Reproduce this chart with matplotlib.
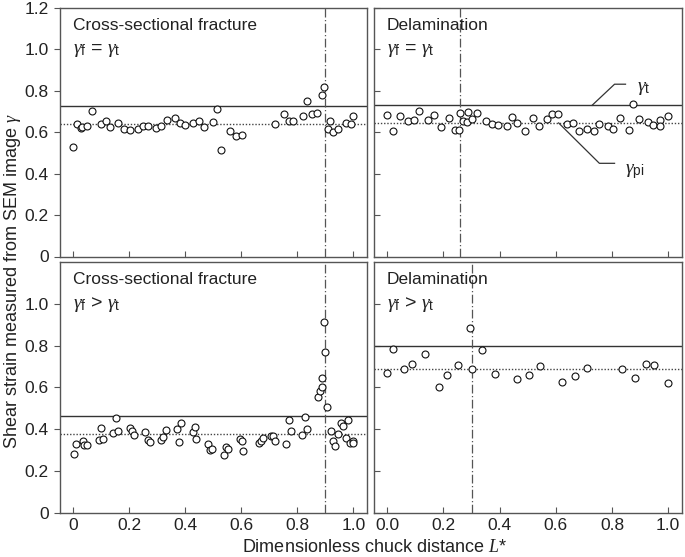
import matplotlib
matplotlib.use("Agg")
import matplotlib.pyplot as plt

plt.rcParams["font.family"] = ["Liberation Sans", "DejaVu Sans"]
plt.rcParams["mathtext.fontset"] = "custom"
plt.rcParams["mathtext.rm"] = "Liberation Sans"
plt.rcParams["mathtext.it"] = "Liberation Serif:italic"

# --- data ---
# cross-sectional fracture, gamma_f = gamma_t
cf1_x = [0.0, 0.015, 0.028, 0.032, 0.048, 0.068, 0.098, 0.116, 0.131, 0.161, 0.182, 0.202,
         0.232, 0.249, 0.266, 0.297, 0.315, 0.334, 0.364, 0.382, 0.399, 0.428, 0.449, 0.468,
         0.498, 0.513, 0.529, 0.561, 0.581, 0.603, 0.722, 0.754, 0.770, 0.786, 0.820, 0.835,
         0.854, 0.871, 0.889, 0.897, 0.908, 0.916, 0.926, 0.944, 0.974, 0.993, 1.0]
cf1_y = [0.528, 0.642, 0.619, 0.627, 0.632, 0.703, 0.642, 0.653, 0.626, 0.645, 0.616, 0.610,
         0.616, 0.629, 0.629, 0.622, 0.632, 0.659, 0.668, 0.643, 0.637, 0.645, 0.653, 0.624,
         0.648, 0.713, 0.514, 0.605, 0.582, 0.589, 0.642, 0.688, 0.655, 0.656, 0.677, 0.753,
         0.687, 0.695, 0.779, 0.819, 0.614, 0.653, 0.601, 0.616, 0.645, 0.640, 0.677]

# delamination, gamma_f = gamma_t
dl1_x = [0.0, 0.021, 0.044, 0.075, 0.094, 0.113, 0.144, 0.166, 0.190, 0.221, 0.240, 0.257,
         0.258, 0.271, 0.285, 0.287, 0.302, 0.320, 0.351, 0.372, 0.395, 0.427, 0.445, 0.462,
         0.491, 0.518, 0.540, 0.569, 0.588, 0.606, 0.638, 0.661, 0.684, 0.712, 0.735, 0.753,
         0.786, 0.805, 0.828, 0.862, 0.876, 0.897, 0.927, 0.946, 0.970, 0.972, 1.0]
dl1_y = [0.684, 0.608, 0.680, 0.656, 0.661, 0.703, 0.661, 0.684, 0.624, 0.671, 0.613, 0.613,
         0.693, 0.656, 0.648, 0.698, 0.666, 0.692, 0.656, 0.639, 0.634, 0.632, 0.674, 0.643,
         0.605, 0.669, 0.632, 0.663, 0.688, 0.688, 0.640, 0.643, 0.605, 0.617, 0.606, 0.639,
         0.630, 0.616, 0.671, 0.610, 0.738, 0.663, 0.650, 0.637, 0.659, 0.632, 0.680]

# cross-sectional fracture, gamma_f > gamma_t
cf2_x = [0.003, 0.011, 0.035, 0.039, 0.050, 0.091, 0.099, 0.107, 0.143, 0.152, 0.161, 0.202,
         0.210, 0.218, 0.258, 0.266, 0.275, 0.313, 0.322, 0.331, 0.369, 0.378, 0.385, 0.427,
         0.434, 0.440, 0.482, 0.489, 0.496, 0.537, 0.546, 0.554, 0.596, 0.601, 0.608, 0.664,
         0.672, 0.679, 0.705, 0.714, 0.721, 0.760, 0.770, 0.778, 0.817, 0.826, 0.834, 0.874,
         0.881, 0.889, 0.889, 0.898, 0.897, 0.907, 0.919, 0.926, 0.934, 0.946, 0.955, 0.962,
         0.982, 0.975, 0.990, 0.998, 1.0]
cf2_y = [0.282, 0.331, 0.344, 0.325, 0.326, 0.347, 0.405, 0.355, 0.381, 0.454, 0.389, 0.406,
         0.392, 0.371, 0.387, 0.349, 0.338, 0.347, 0.362, 0.395, 0.403, 0.339, 0.427, 0.386,
         0.408, 0.352, 0.330, 0.301, 0.307, 0.275, 0.315, 0.304, 0.355, 0.342, 0.297, 0.336,
         0.341, 0.358, 0.368, 0.368, 0.342, 0.328, 0.446, 0.393, 0.374, 0.456, 0.401, 0.553,
         0.582, 0.604, 0.645, 0.771, 0.911, 0.507, 0.392, 0.342, 0.320, 0.377, 0.430, 0.416,
         0.446, 0.357, 0.333, 0.344, 0.333]

# delamination, gamma_f > gamma_t
dl2_x = [0.0, 0.019, 0.060, 0.088, 0.136, 0.184, 0.214, 0.253, 0.296, 0.302, 0.338, 0.384,
         0.463, 0.504, 0.545, 0.623, 0.669, 0.712, 0.835, 0.880, 0.922, 0.950, 1.0]
dl2_y = [0.671, 0.785, 0.689, 0.713, 0.758, 0.603, 0.657, 0.708, 0.883, 0.689, 0.777, 0.664,
         0.638, 0.660, 0.702, 0.628, 0.654, 0.695, 0.688, 0.646, 0.712, 0.705, 0.622]

# reference levels: gamma_t (solid), gamma_pi (dotted), fracture position (dash-dot)
gam_t = [0.728, 0.730, 0.464, 0.800]
gam_pi = [0.640, 0.645, 0.375, 0.690]
frac_pos = [0.90, 0.26, 0.90, 0.30]

titles = ["Cross-sectional fracture", "Delamination", "Cross-sectional fracture", "Delamination"]
conds = [r"$\gamma_{\rm f}$ = $\gamma_{\rm t}$", r"$\gamma_{\rm f}$ = $\gamma_{\rm t}$",
         r"$\gamma_{\rm f}$ > $\gamma_{\rm t}$", r"$\gamma_{\rm f}$ > $\gamma_{\rm t}$"]
xs = [cf1_x, dl1_x, cf2_x, dl2_x]
ys = [cf1_y, dl1_y, cf2_y, dl2_y]

ticks = [0, 0.2, 0.4, 0.6, 0.8, 1.0]
left_xlabels = ["0", "0.2", "0.4", "0.6", "0.8", "1.0"]
right_xlabels = ["0.0", "0.2", "0.4", "0.6", "0.8", "1.0"]
ylabels_top = ["0", "0.2", "0.4", "0.6", "0.8", "1.0", "1.2"]
ylabels_bot = ["0", "0.2", "0.4", "0.6", "0.8", "1.0"]

W, H = 685, 557
fig = plt.figure(figsize=(W / 100, H / 100), dpi=100)
boxes = [(60, 8, 307, 248.5), (374, 8, 308, 248.5),
         (60, 262, 307, 250.7), (374, 262, 308, 250.7)]
FRAME = "#555555"
TXT = "#222222"

for i, (l, t, w, h) in enumerate(boxes):
    ax = fig.add_axes([l / W, 1 - (t + h) / H, w / W, h / H])
    ax.set_xlim(-0.047, 1.049)
    ax.set_ylim(0, 1.2)
    left = i % 2 == 0
    top = i < 2

    ax.axhline(gam_t[i], color="#333333", lw=1.0, zorder=2)
    ax.axhline(gam_pi[i], color="#444444", lw=1.0, ls=(0, (1, 1.3)), zorder=2)
    ax.axvline(frac_pos[i], color="#555555", lw=0.9, ls=(0, (7, 2, 1, 2)), zorder=2)
    ax.plot(xs[i], ys[i], "o", ms=5, mfc="white", mec="#111111", mew=0.8, zorder=3)

    ax.text(0.042, 0.93, titles[i], transform=ax.transAxes, fontsize=12.5,
            color=TXT, va="center", ha="left")
    ax.text(0.042, 0.83, conds[i], transform=ax.transAxes, fontsize=14,
            color=TXT, va="center", ha="left")

    ax.set_xticks(ticks)
    if top:
        ax.set_xticklabels([])
    else:
        ax.set_xticklabels(left_xlabels if left else right_xlabels)
    if top:
        ax.set_yticks([0, 0.2, 0.4, 0.6, 0.8, 1.0, 1.2])
        yl = ylabels_top
    else:
        ax.set_yticks([0, 0.2, 0.4, 0.6, 0.8, 1.0])
        yl = ylabels_bot
    if left:
        ax.set_yticklabels(yl)
        ax.tick_params(axis="y", direction="out")
    else:
        ax.set_yticklabels([])
        ax.tick_params(axis="y", direction="in")
    ax.tick_params(axis="x", direction="in")
    ax.tick_params(length=4, width=0.8, color=FRAME, labelsize=12.5,
                   labelcolor=TXT, pad=4)
    for s in ax.spines.values():
        s.set_color(FRAME)
        s.set_linewidth(1.0)

    if i == 1:
        # leader lines for the gamma_t and gamma_pi levels
        ax.plot([0.729, 0.809, 0.848], [gam_t[i], 0.832, 0.832], color="#333333", lw=0.9)
        ax.text(0.89, 0.81, r"$\gamma_{\rm t}$", fontsize=14, color=TXT, va="center")
        ax.plot([0.610, 0.755, 0.809], [gam_pi[i], 0.45, 0.45], color="#333333", lw=0.9)
        ax.text(0.845, 0.41, r"$\gamma_{\rm pi}$", fontsize=14, color=TXT, va="center")

fig.text(0.018, 0.495, r"Shear strain measured from SEM image $\gamma$", rotation=90,
         fontsize=13, color=TXT, ha="center", va="center")
fig.text(0.547, 0.017, r"Dimensionless chuck distance $L$*", fontsize=13,
         color=TXT, ha="center", va="center")

fig.savefig("out.png", dpi=100)
